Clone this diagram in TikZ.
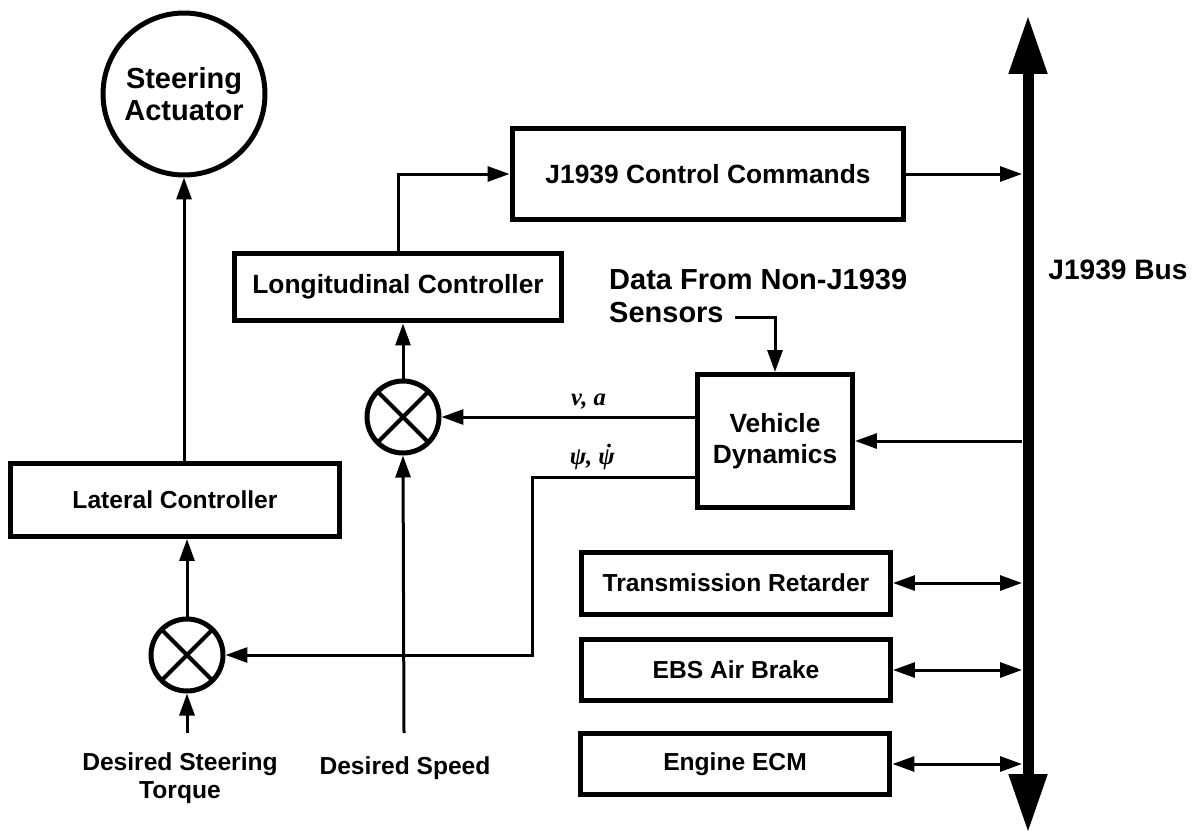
\documentclass[tikz,border=0pt]{standalone}
\usepackage{fontspec}
\setmainfont{Liberation Sans}
\newfontfamily\lblserif{Liberation Serif}
\usetikzlibrary{arrows.meta}
\newcommand{\fsz}[2]{\fontsize{#1}{#2}\selectfont\bfseries}

\begin{document}
\begin{tikzpicture}[x=0.02cm,y=-0.02cm]
  \tikzstyle{blk}=[draw,line width=0.1cm,align=center,inner sep=0pt,font=\fsz{14}{16}]
  \tikzstyle{sum}=[draw,circle,line width=0.1cm,minimum size=1.44cm,inner sep=0pt,
    path picture={\draw[line width=0.08cm] (path picture bounding box.north west) -- (path picture bounding box.south east)
      (path picture bounding box.north east) -- (path picture bounding box.south west);}]
  \tikzstyle{txt}=[align=center,font=\fsz{14}{16}]
  \tikzstyle{sig}=[font=\lblserif\fontsize{14}{16}\selectfont\bfseries\itshape]
  \tikzstyle{f}=[-{Triangle[length=0.44cm,width=0.3cm]},line width=0.06cm]
  \tikzstyle{ff}=[{Triangle[length=0.44cm,width=0.3cm]}-{Triangle[length=0.44cm,width=0.3cm]},line width=0.06cm]
  \tikzstyle{bus}=[{Triangle[length=1.18cm,width=0.72cm]}-{Triangle[length=1.18cm,width=0.72cm]},line width=0.22cm]

  \useasboundingbox (0,0) rectangle (1202,835);

  \node[draw,circle,line width=0.1cm,minimum size=3.24cm,align=center,font=\fsz{16.5}{18}] (act) at (184,94) {Steering\\Actuator};
  \node[blk,minimum width=6.6cm,minimum height=1.46cm] (lat) at (175,500) {Lateral Controller};
  \node[blk,minimum width=6.54cm,minimum height=1.36cm,font=\fsz{15}{18}] (lon) at (398,287) {Longitudinal Controller};
  \node[blk,minimum width=7.84cm,minimum height=1.84cm,font=\fsz{15}{18}] (cmd) at (708,174) {J1939 Control Commands};
  \node[blk,minimum width=3.1cm,minimum height=2.66cm,font=\fsz{15}{18}] (vd) at (775,441) {Vehicle\\Dynamics};
  \node[blk,minimum width=6.18cm,minimum height=1.24cm] (tr) at (736,583) {Transmission Retarder};
  \node[blk,minimum width=6.18cm,minimum height=1.22cm] (ebs) at (736,670) {EBS Air Brake};
  \node[blk,minimum width=6.2cm,minimum height=1.22cm] (ecm) at (735,764) {Engine ECM};

  \node[sum] (slat) at (187,655) {};
  \node[sum] (slon) at (403,417) {};

  \coordinate (bustop) at (1028,15);
  \coordinate (busbot) at (1028,833);
  \coordinate (busL) at (1022,0);
  \draw[bus] (busbot) -- (bustop);
  \node[font=\fsz{16}{18}] (buslbl) at (1118,270) {J1939 Bus};

  \node[font=\fsz{16.5}{19},align=left,anchor=west] (data) at (603,296) {Data From Non-J1939\\Sensors};
  \coordinate (datafrom) at (735,317);
  \node[txt] (trqtxt) at (180,778) {Desired Steering\\Torque};
  \node[txt] (spdtxt) at (405,768) {Desired Speed};
  \coordinate (trq) at (187,733);
  \coordinate (spd) at (404,733);

  \draw[f] (act.south |- lat.north) -- (act.south);
  \draw[f] (slat.north) -- (slat.north |- lat.south);
  \draw[f] (trq) -- (slat.south);
  \draw[f] (spd) -- (slon.south);
  \draw[f] (slon.north) -- (slon.north |- lon.south);
  \draw[f] (lon.north) |- (cmd.west);
  \draw[f] (cmd.east) -- (cmd.east -| busL);
  \draw[f] (busL |- vd.east) -- (vd.east);
  \draw[f] (datafrom) -| (vd.north);
  \draw[f] (vd.west |- slon.east) -- node[above,pos=0.42,sig] {v, a} (slon.east);
  \draw[f] ([yshift=-0.73cm]vd.west) -- node[above,pos=0.63,sig] {ψ, \accent"02D9 ψ} ++(-163,0) |- (slat.east);
  \draw[ff] (tr.east) -- (tr.east -| busL);
  \draw[ff] (ebs.east) -- (ebs.east -| busL);
  \draw[ff] (ecm.east) -- (ecm.east -| busL);
\end{tikzpicture}
\end{document}
